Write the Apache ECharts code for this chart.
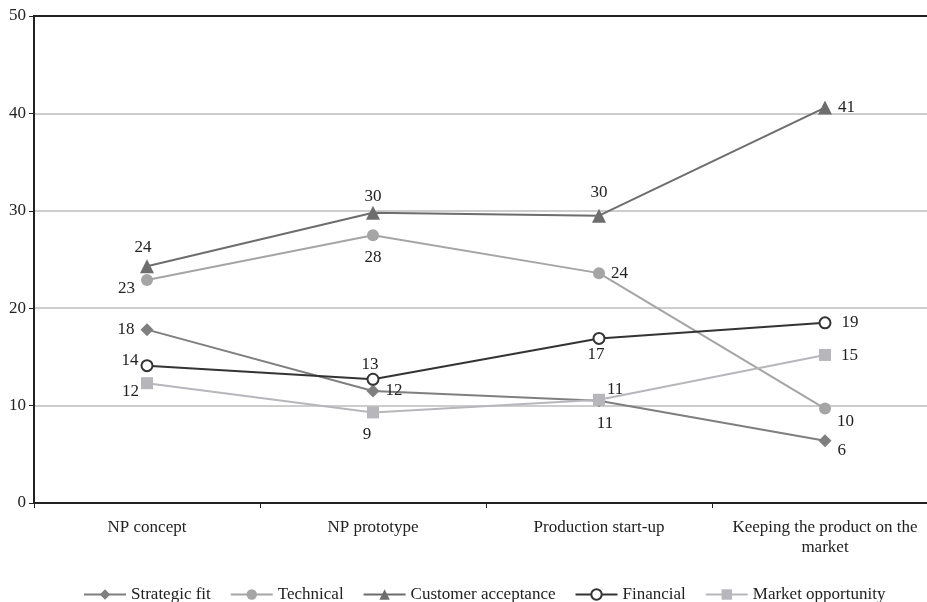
<!DOCTYPE html>
<html>
<head>
<meta charset="utf-8">
<script src="https://cdn.jsdelivr.net/npm/echarts@6/dist/echarts.min.js"></script>
<style>
  html, body { margin: 0; padding: 0; background: #fff; }
  #chart { width: 927px; height: 602px; }
</style>
</head>
<body>
<div id="chart"></div>
<script>
// Stages of new product development
const stages = ['NP concept', 'NP prototype', 'Production start-up', 'Keeping the product on the\nmarket'];

// Share of criteria used at each stage (%)
const strategicFit      = [17.8, 11.5, 10.5, 6.4];
const technical         = [22.9, 27.5, 23.6, 9.7];
const customerAccept    = [24.3, 29.8, 29.5, 40.6];
const financial         = [14.1, 12.7, 16.9, 18.5];
const marketOpportunity = [12.3, 9.3, 10.6, 15.2];

const yTicks = [0, 10, 20, 30, 40, 50];

const FONT = '"Liberation Serif", "Times New Roman", serif';

function withLabels(values, positions, offsets) {
  return values.map((v, i) => ({
    value: v,
    label: {
      position: positions[i],
      offset: offsets ? offsets[i] : [0, 0]
    }
  }));
}

function lineSeries(name, values, color, symbol, size, positions, offsets, extra) {
  return Object.assign({
    name: name,
    type: 'line',
    data: withLabels(values, positions, offsets),
    symbol: symbol,
    symbolSize: size,
    lineStyle: { color: color, width: 2 },
    itemStyle: { color: color },
    label: {
      show: true,
      fontFamily: FONT,
      fontSize: 17,
      color: '#222',
      distance: 6,
      formatter: p => Math.round(p.value)
    },
    emphasis: { disabled: true },
    animation: false
  }, extra || {});
}

const chart = echarts.init(document.getElementById('chart'));
chart.setOption({
  animation: false,
  grid: {
    left: 34, top: 16, width: 904, height: 487,
    outerBoundsMode: 'none',
    containLabel: false,
    show: true, borderColor: '#222', borderWidth: 2, backgroundColor: 'transparent'
  },
  legend: {
    top: 581,
    left: 78,
    itemWidth: 42,
    itemHeight: 13,
    itemGap: 19,
    textStyle: { fontFamily: FONT, fontSize: 17, color: '#222' },
    data: ['Strategic fit', 'Technical', 'Customer acceptance', 'Financial', 'Market opportunity']
  },
  xAxis: {
    type: 'category',
    data: stages,
    boundaryGap: true,
    axisLine: { lineStyle: { color: '#222', width: 2 } },
    axisTick: { show: true, length: 5, lineStyle: { color: '#222' } },
    axisLabel: { fontFamily: FONT, fontSize: 17, color: '#222', margin: 15, lineHeight: 20, interval: 0 }
  },
  yAxis: {
    type: 'value',
    min: yTicks[0],
    max: yTicks[yTicks.length - 1],
    interval: 10,
    axisLine: { show: true, lineStyle: { color: '#222', width: 2 } },
    axisTick: { show: true, length: 5, lineStyle: { color: '#222' } },
    axisLabel: { fontFamily: FONT, fontSize: 17, color: '#222', margin: 8 },
    splitLine: { showMaxLine: false, showMinLine: false, lineStyle: { color: '#bdbdbd', width: 1.5 } }
  },
  series: [
    lineSeries('Strategic fit', strategicFit, '#7f7f7f', 'diamond', 13,
      ['left', 'right', 'bottom', 'right'], [[0, 0], [0, 0], [6, 2], [0, 10]]),
    lineSeries('Technical', technical, '#a5a5a5', 'circle', 12,
      ['left', 'bottom', 'right', 'right'], [[0, 9], [0, 2], [0, 0], [0, 13]]),
    lineSeries('Customer acceptance', customerAccept, '#6d6d6d', 'triangle', 14,
      ['top', 'top', 'top', 'right'], [[-4, 3], [0, 5], [0, -2], [0, 0]]),
    lineSeries('Financial', financial, '#333333', 'emptyCircle', 11,
      ['left', 'top', 'bottom', 'right'], [[4, -5], [-3, 6], [-3, -5], [4, 0]],
      { itemStyle: { color: '#333333', borderWidth: 2 } }),
    lineSeries('Market opportunity', marketOpportunity, '#b7b7bb', 'rect', 12,
      ['left', 'bottom', 'right', 'right'], [[4, 8], [-6, 2], [-4, -10], [4, 1]])
  ]
});
</script>
</body>
</html>
